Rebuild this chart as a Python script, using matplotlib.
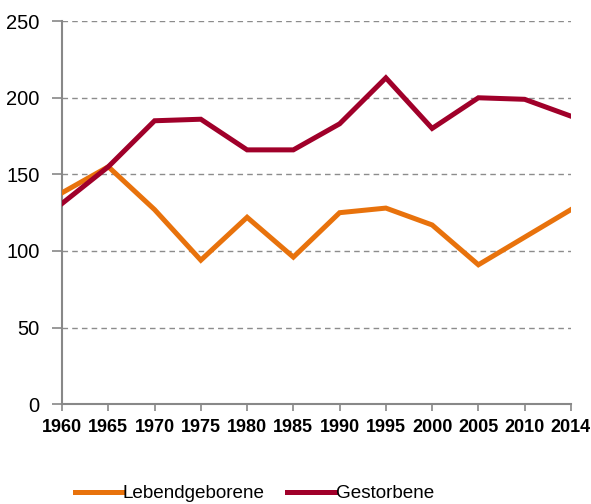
import matplotlib.pyplot as plt
import numpy as np

years = ['1960', '1965', '1970', '1975', '1980', '1985', '1990', '1995',
         '2000', '2005', '2010', '2014']
lebendgeborene = [138, 155, 127, 94, 122, 96, 125, 128, 117, 91, 109, 127]
gestorbene = [131, 155, 185, 186, 166, 166, 183, 213, 180, 200, 199, 188]

ORANGE = '#E8720C'
RED = '#A0002A'
GREY = '#888888'


def main():
    plt.rcParams['font.family'] = ['Liberation Sans', 'DejaVu Sans']
    fig = plt.figure(figsize=(5.91, 5.04), dpi=100)
    ax = fig.add_axes([0.105, 0.198, 0.861, 0.760])

    x = np.arange(len(years))
    ax.plot(x, lebendgeborene, color=ORANGE, lw=3.6, label='Lebendgeborene',
            solid_joinstyle='miter', zorder=3)
    ax.plot(x, gestorbene, color=RED, lw=3.6, label='Gestorbene',
            solid_joinstyle='miter', zorder=4)

    ax.set_xlim(0, len(years) - 1)
    ax.set_ylim(0, 250)
    ax.set_yticks(range(0, 251, 50))
    ax.set_xticks(x)
    ax.set_xticklabels(years, fontsize=13, fontweight='bold',
                       family=['Liberation Sans Narrow', 'Liberation Sans'])
    ax.tick_params(axis='y', labelsize=14.5, length=7, width=1.2, color=GREY, pad=9)
    ax.tick_params(axis='x', length=5, width=1.2, color=GREY, pad=6)

    for side in ('top', 'right'):
        ax.spines[side].set_visible(False)
    for side in ('left', 'bottom'):
        ax.spines[side].set_color(GREY)
        ax.spines[side].set_linewidth(1.5)

    ax.yaxis.grid(True, color='#8c8c8c', ls=(0, (4, 3)), lw=1.0)
    ax.set_axisbelow(True)

    fig.legend(loc='lower center', bbox_to_anchor=(0.43, -0.03), ncol=2,
               frameon=False, fontsize=13.6, handlelength=2.5, handletextpad=0.05,
               columnspacing=1.2)

    fig.savefig('out.png', dpi=100)


if __name__ == '__main__':
    main()
